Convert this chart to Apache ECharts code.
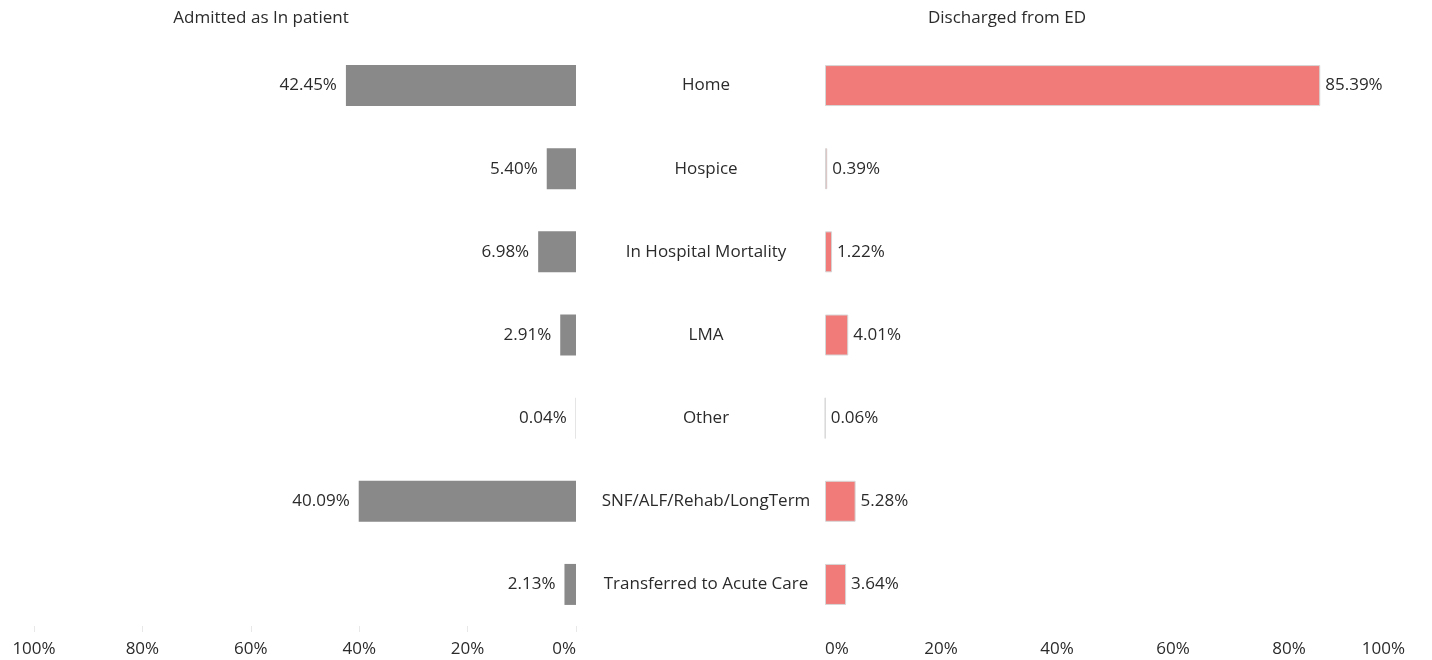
<!DOCTYPE html>
<html>
<head>
<meta charset="utf-8">
<title>Admitted vs Discharged</title>
<script src="https://cdn.jsdelivr.net/npm/echarts@6/dist/echarts.min.js"></script>
<style>
  html, body { margin: 0; padding: 0; background: #fff; }
  #chart { width: 1432px; height: 660px; }
</style>
</head>
<body>
<div id="chart"></div>
<script>
// categories, top to bottom
const categories = ['Home', 'Hospice', 'In Hospital Mortality', 'LMA', 'Other', 'SNF/ALF/Rehab/LongTerm', 'Transferred to Acute Care']
// % of patients
const admittedValues = [42.45, 5.40, 6.98, 2.91, 0.04, 40.09, 2.13]
const dischargedValues = [85.39, 0.39, 1.22, 4.01, 0.06, 5.28, 3.64]
const axisTicks = [0, 20, 40, 60, 80, 100]

const FONT = 'Open Sans'
const FS = 17
const TXT = '#2b2b2b'

let chart = echarts.init(document.getElementById('chart'))

let pctAxis = (gridIndex, inverse, showTick) => ({
  type: 'value',
  gridIndex: gridIndex,
  inverse: inverse,
  min: axisTicks[0],
  max: axisTicks[axisTicks.length - 1],
  interval: axisTicks[1] - axisTicks[0],
  splitLine: { show: false },
  axisLine: { show: false },
  axisTick: { show: showTick, length: 6, lineStyle: { color: '#e8e8e8' } },
  axisLabel: {
    margin: 15,
    color: TXT,
    fontFamily: FONT,
    fontSize: FS,
    formatter: '{value}%',
    alignMinLabel: inverse ? 'right' : 'left',
    alignMaxLabel: inverse ? 'center' : 'right'
  }
})

let option = {
  animation: false,
  title: [
    { text: 'Admitted as In patient', left: 256, top: 5, textAlign: 'center',
      textStyle: { fontFamily: FONT, fontSize: FS, fontWeight: 'normal', color: TXT } },
    { text: 'Discharged from ED', left: 1002, top: 5, textAlign: 'center',
      textStyle: { fontFamily: FONT, fontSize: FS, fontWeight: 'normal', color: TXT } }
  ],
  grid: [
    { left: 34, width: 542, top: 44, height: 582 },
    { left: 825, width: 580, top: 44, height: 582 }
  ],
  xAxis: [pctAxis(0, true, true), pctAxis(1, false, false)],
  yAxis: [
    {
      type: 'category', gridIndex: 0, data: categories, inverse: true, position: 'right',
      axisLine: { show: false }, axisTick: { show: false }, axisLabel: { show: false }
    },
    {
      type: 'category', gridIndex: 1, data: categories, inverse: true,
      axisLine: { show: false }, axisTick: { show: false },
      axisLabel: { margin: 119, align: 'center', color: TXT, fontFamily: FONT, fontSize: FS }
    }
  ],
  series: [
    {
      name: 'Admitted as In patient', type: 'bar', xAxisIndex: 0, yAxisIndex: 0,
      data: admittedValues, barWidth: 41,
      itemStyle: { color: '#898989' },
      label: {
        show: true, position: 'left', distance: 9, color: TXT, fontFamily: FONT, fontSize: FS,
        formatter: p => p.value.toFixed(2) + '%'
      }
    },
    {
      name: 'Discharged from ED', type: 'bar', xAxisIndex: 1, yAxisIndex: 1,
      data: dischargedValues, barWidth: 41,
      itemStyle: { color: '#F07B79', borderColor: '#d6d6d6', borderWidth: 1 },
      label: {
        show: true, position: 'right', distance: 5, color: TXT, fontFamily: FONT, fontSize: FS,
        formatter: p => p.value.toFixed(2) + '%'
      }
    }
  ]
}

chart.setOption(option)
</script>
</body>
</html>
